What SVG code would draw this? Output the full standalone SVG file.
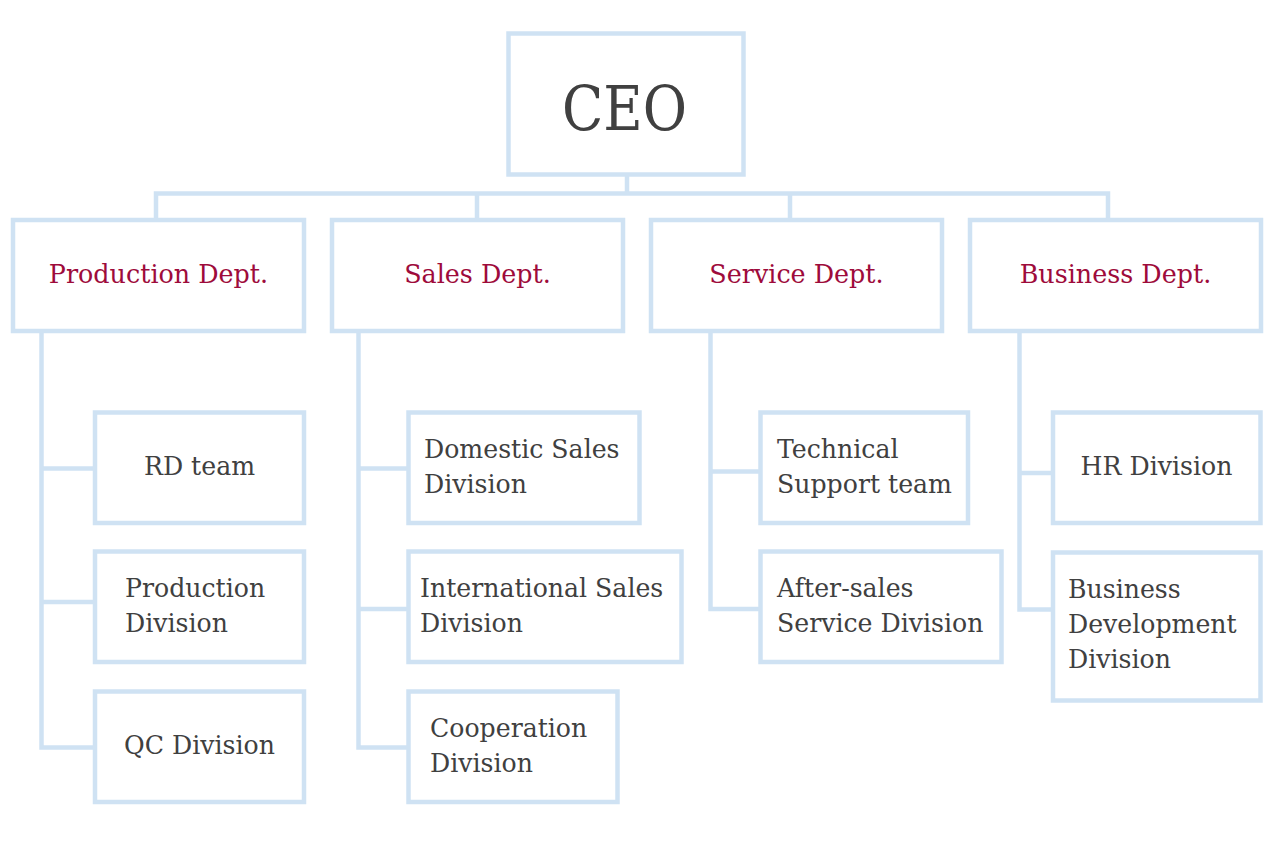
<svg xmlns="http://www.w3.org/2000/svg" width="1269" height="846" viewBox="0 0 1269 846">
<style>
.box{fill:#fff;stroke:#cfe2f3;stroke-width:4.5}
.ln{fill:none;stroke:#cfe2f3;stroke-width:4.5}
.t{font-family:"DejaVu Serif","Liberation Serif",serif;font-size:25.2px;fill:#404040}
.d{font-family:"DejaVu Serif","Liberation Serif",serif;font-size:25.4px;fill:#9e0b3b;text-anchor:middle}
.c{text-anchor:middle}
.ceo{font-family:"DejaVu Serif","Liberation Serif",serif;font-size:62px;fill:#404040;text-anchor:middle}
</style>
<rect width="1269" height="846" fill="#fff"/>
<g id="connectors">
<path class="ln" d="M627 175V193.5M156 218V193.5H1108V218M477 193.5V218M790 193.5V218"/>
<path class="ln" d="M41.5 331V747.5H95M41.5 468.5H95M41.5 602H95"/>
<path class="ln" d="M358.5 331V747.5H408.5M358.5 468.5H408.5M358.5 609H408.5"/>
<path class="ln" d="M710.5 331V609H760.5M710.5 471.5H760.5"/>
<path class="ln" d="M1019.5 331V609.5H1053M1019.5 473H1053"/>
</g>
<g id="ceo"><rect class="box" x="508.5" y="33.5" width="235" height="141"/><text class="ceo" x="624.5" y="130" textLength="125" lengthAdjust="spacingAndGlyphs">CEO</text></g>
<g id="production-dept"><rect class="box" x="13" y="220" width="291" height="111"/><text class="d" x="158.5" y="283">Production Dept.</text></g>
<g id="sales-dept"><rect class="box" x="332" y="220" width="291" height="111"/><text class="d" x="477.5" y="283">Sales Dept.</text></g>
<g id="service-dept"><rect class="box" x="651" y="220" width="291" height="111"/><text class="d" x="796.5" y="283">Service Dept.</text></g>
<g id="business-dept"><rect class="box" x="970" y="220" width="291" height="111"/><text class="d" x="1115.5" y="283">Business Dept.</text></g>
<g id="rd-team"><rect class="box" x="95" y="412.5" width="209" height="110.5"/><text class="t c" x="199.5" y="475">RD team</text></g>
<g id="production-division"><rect class="box" x="95" y="551.5" width="209" height="110.5"/><text class="t" x="125" y="597">Production</text><text class="t" x="125" y="632">Division</text></g>
<g id="qc-division"><rect class="box" x="95" y="691.5" width="209" height="110.5"/><text class="t c" x="199.5" y="754">QC Division</text></g>
<g id="domestic-sales"><rect class="box" x="408.5" y="412.5" width="231" height="110.5"/><text class="t" x="424" y="458">Domestic Sales</text><text class="t" x="424" y="493">Division</text></g>
<g id="international-sales"><rect class="box" x="408.5" y="551.5" width="273" height="110.5"/><text class="t" x="420" y="597">International Sales</text><text class="t" x="420" y="632">Division</text></g>
<g id="cooperation"><rect class="box" x="408.5" y="691.5" width="209" height="110.5"/><text class="t" x="430" y="737">Cooperation</text><text class="t" x="430" y="772">Division</text></g>
<g id="technical-support"><rect class="box" x="760.5" y="412.5" width="207.5" height="110.5"/><text class="t" x="777" y="458">Technical</text><text class="t" x="777" y="493">Support team</text></g>
<g id="after-sales"><rect class="box" x="760.5" y="551.5" width="241" height="110.5"/><text class="t" x="777" y="597">After-sales</text><text class="t" x="777" y="632">Service Division</text></g>
<g id="hr-division"><rect class="box" x="1053" y="412.5" width="207.5" height="110.5"/><text class="t c" x="1156.5" y="475">HR Division</text></g>
<g id="business-development"><rect class="box" x="1053" y="552.5" width="207.5" height="148"/><text class="t" x="1068" y="598">Business</text><text class="t" x="1068" y="633">Development</text><text class="t" x="1068" y="668">Division</text></g>
</svg>
